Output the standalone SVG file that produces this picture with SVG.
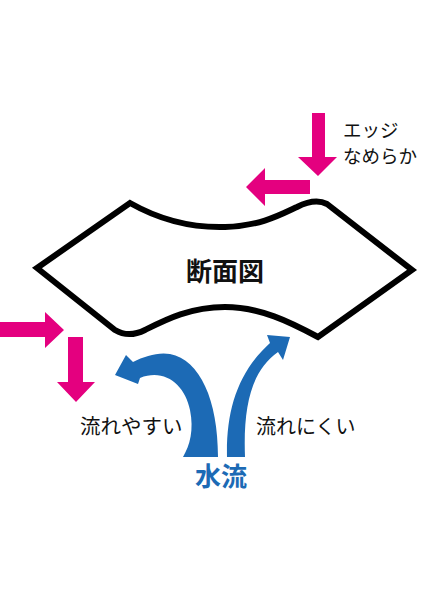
<svg xmlns="http://www.w3.org/2000/svg" width="424" height="600" viewBox="0 0 424 600">
<style>
.t{font-family:"Noto Sans CJK JP","Noto Sans",sans-serif;fill:#111}
.mag{fill:#e4007f}
.blu{fill:#1c6ab5}
</style>
<rect width="424" height="600" fill="#fff"/>
<g id="section">
<path d="M37,268 L130,203 C160,220 190,228 225,227 C260,226 280,215 297,207 C307,202 317,199 327,204 L412,270 L318,337 C290,322 260,307 225,307 C190,307 165,320 145,330 C135,335 125,336 115,330 Z" fill="#fff" stroke="#000" stroke-width="6" stroke-linejoin="miter"/>
<text class="t" x="225" y="281" font-size="26" font-weight="bold" text-anchor="middle">断面図</text>
</g>
<g id="connectors">
<polygon class="mag" points="312,113 325,113 325,157 337,157 318,176 298,157 312,157"/>
<polygon class="mag" points="310,180 265,180 265,168 246,187 265,206 265,194 310,194"/>
<polygon class="mag" points="0,322 45,322 45,312 64,330 45,348 45,337 0,337"/>
<polygon class="mag" points="68,337 83,337 83,382 95,382 76,402 57,382 68,382"/>
<path class="blu" d="M218,457 C218,400 200,360 170,354 C158,352 145,356 133,362 L126,355 L115,375 L138,384 L140,378 C165,368 185,385 190,410 C194,430 190,445 183,457 Z"/>
<path class="blu" d="M227,457 C226,410 238,372 270,343 L267,335 L290,337 L283,360 L278,352 C252,370 243,405 245,457 Z"/>
</g>
<g id="label-edge">
<text class="t" x="343" y="137" font-size="18.5">エッジ</text>
<text class="t" x="343" y="163" font-size="18.5">なめらか</text>
</g>
<g id="label-easy"><text class="t" x="80" y="434" font-size="20.5">流れやすい</text></g>
<g id="label-hard"><text class="t" x="256" y="434" font-size="20">流れにくい</text></g>
<g id="label-water"><text x="221" y="486" font-size="26" font-weight="bold" text-anchor="middle" font-family="'Noto Sans CJK JP',sans-serif" fill="#1c6ab5">水流</text></g>
</svg>
